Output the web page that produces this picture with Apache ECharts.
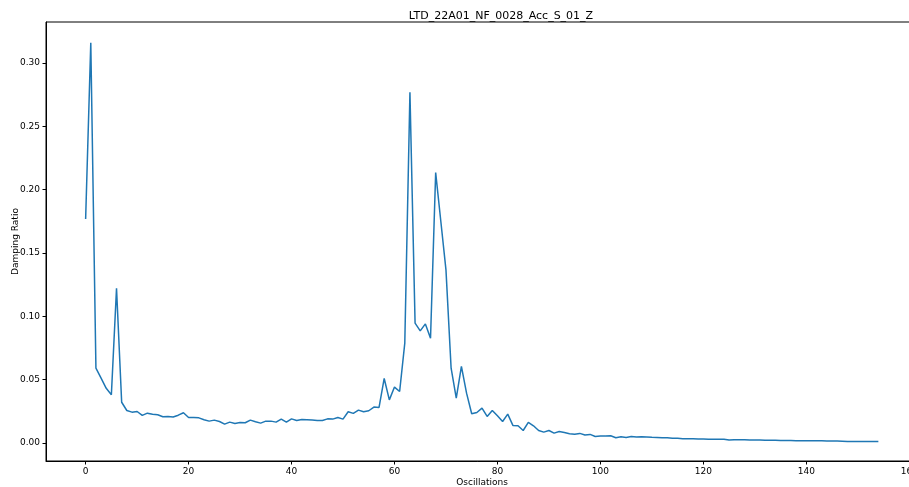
<!DOCTYPE html>
<html><head><meta charset="utf-8">
<script src="https://cdn.jsdelivr.net/npm/echarts@6/dist/echarts.min.js"></script>
<style>html,body{margin:0;padding:0;background:#fff}#c{width:909px;height:487px}</style>
</head><body><div id="c"></div>
<script>
const titleText = 'LTD_22A01_NF_0028_Acc_S_01_Z';
const xLabel = 'Oscillations';
const yLabel = 'Damping Ratio';
const xTicks = [0, 20, 40, 60, 80, 100, 120, 140, 160];
const yTicks = [0, 0.05, 0.10, 0.15, 0.20, 0.25, 0.30];
const dampingRatio = [
  0.1768, 0.316, 0.059, 0.051, 0.043, 0.038, 0.122, 0.032, 0.0255, 0.0242,
  0.0247, 0.0216, 0.0234, 0.0226, 0.0221, 0.0205, 0.0208, 0.0203, 0.0218, 0.0237,
  0.0200, 0.0200, 0.0197, 0.0182, 0.0171, 0.0179, 0.0168, 0.0147, 0.0163, 0.0153,
  0.0160, 0.0158, 0.0179, 0.0166, 0.0155, 0.0171, 0.0171, 0.0163, 0.0187, 0.0163,
  0.0189, 0.0176, 0.0184, 0.0182, 0.0179, 0.0176, 0.0176, 0.0189, 0.0187, 0.0200,
  0.0187, 0.0245, 0.0232, 0.0258, 0.0245, 0.0253, 0.0282, 0.0279, 0.0508, 0.0339,
  0.0440, 0.0405, 0.0787, 0.2768, 0.0945, 0.0884, 0.0939, 0.0826, 0.2134, 0.175,
  0.1366, 0.0589, 0.0353, 0.0603, 0.0392, 0.0229, 0.0239, 0.0274, 0.0208, 0.0255,
  0.0213, 0.0168, 0.0226, 0.0137, 0.0134, 0.0097, 0.0161, 0.0134, 0.0097, 0.0084,
  0.0097, 0.0076, 0.0089, 0.0081, 0.0071, 0.0068, 0.0074, 0.0061, 0.0066, 0.0050,
  0.0053, 0.0054, 0.0055, 0.0040, 0.0047, 0.0042, 0.0050, 0.0045, 0.0048, 0.0046,
  0.0043, 0.0042, 0.0040, 0.0039, 0.0036, 0.0035, 0.0032, 0.0031, 0.0031, 0.0030,
  0.0030, 0.0028, 0.0028, 0.0027, 0.0028, 0.0022, 0.0023, 0.0023, 0.0023, 0.0022,
  0.0021, 0.0021, 0.0020, 0.0019, 0.0019, 0.0018, 0.0018, 0.0017, 0.0016, 0.0016,
  0.0016, 0.0015, 0.0016, 0.0015, 0.0014, 0.0014, 0.0014, 0.0013, 0.0011, 0.0011,
  0.0011, 0.0011, 0.0010, 0.0010, 0.0010
];
const seriesData = dampingRatio.map((v, i) => [i, v]);

const font = 'DejaVu Sans';
const chart = echarts.init(document.getElementById('c'), null, {renderer: 'canvas'});
chart.setOption({
  animation: false,
  backgroundColor: '#fff',
  title: {
    text: titleText, left: 496, top: 6, textAlign: 'center',
    textStyle: {fontFamily: font, fontSize: 11, fontWeight: 'normal', color: '#000'}
  },
  grid: {left: 46, top: 22, right: -9, bottom: 26, show: true, borderColor: '#000', borderWidth: 1,
         backgroundColor: 'transparent', containLabel: false, outerBoundsMode: 'none'},
  xAxis: {
    type: 'value', min: -7.7, max: 161.7,
    name: xLabel, nameLocation: 'middle', nameGap: 17, nameMoveOverlap: false,
    nameTextStyle: {fontFamily: font, fontSize: 9, color: '#000'},
    axisLine: {show: true, onZero: false, lineStyle: {color: '#000', width: 1}},
    axisTick: {show: true, length: 3.5, lineStyle: {color: '#000'}, customValues: xTicks},
    axisLabel: {fontFamily: font, fontSize: 9, color: '#000', margin: 6, customValues: xTicks, showMinLabel: true, showMaxLabel: true, hideOverlap: false},
    splitLine: {show: false}
  },
  yAxis: {
    type: 'value', min: -0.0144, max: 0.3324,
    name: yLabel, nameLocation: 'middle', nameGap: 26, nameRotate: 90, nameMoveOverlap: false,
    nameTextStyle: {fontFamily: font, fontSize: 9, color: '#000'},
    axisLine: {show: true, onZero: false, lineStyle: {color: '#000', width: 1}},
    axisTick: {show: true, length: 3.5, lineStyle: {color: '#000'}, customValues: yTicks},
    axisLabel: {fontFamily: font, fontSize: 9, color: '#000', margin: 6, customValues: yTicks, formatter: v => v.toFixed(2)},
    splitLine: {show: false}
  },
  series: [{
    type: 'line', data: seriesData, showSymbol: false, symbol: 'none',
    lineStyle: {color: '#1f77b4', width: 1.5}, clip: true
  }]
});
</script></body></html>
